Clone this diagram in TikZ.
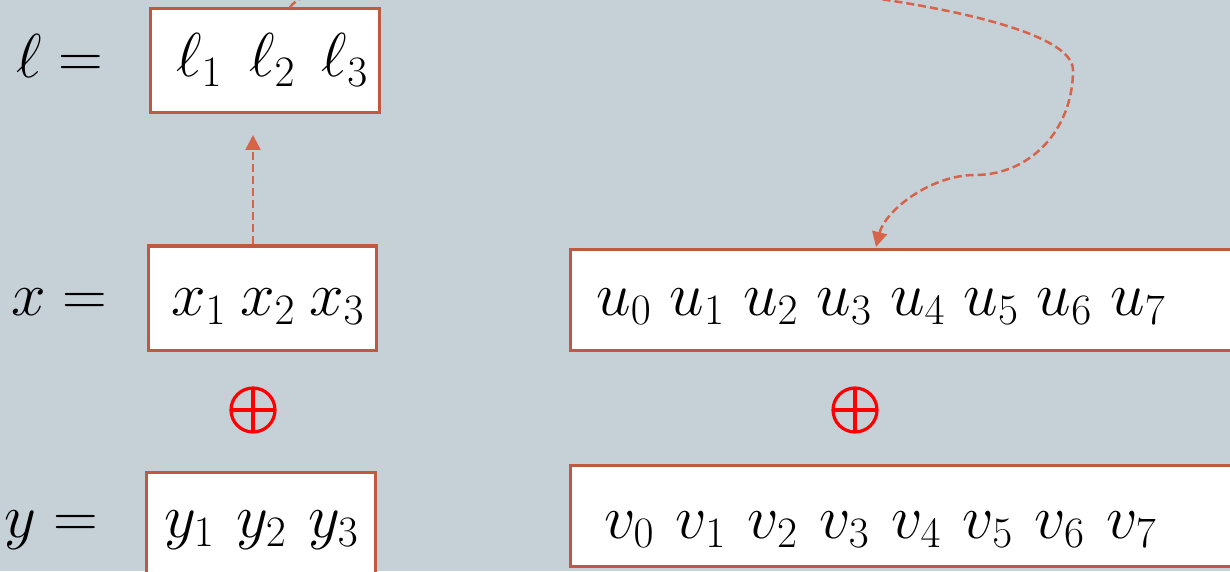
\RequirePackage{fix-cm}
\documentclass[tikz,border=0pt]{standalone}
\usetikzlibrary{arrows.meta}
\definecolor{bgc}{RGB}{197,208,215}
\definecolor{boxc}{RGB}{192,88,66}
\definecolor{arrc}{RGB}{214,100,75}
\begin{document}
\begin{tikzpicture}[x=1pt,y=1pt,
  bitbox/.style={draw=boxc, line width=3pt, fill=white, inner sep=0pt},
  txt/.style={inner sep=0pt, anchor=base west, font=\fontsize{62}{74}\selectfont},
  link/.style={draw=arrc, line width=2.5pt, dash pattern=on 8pt off 4pt, -{Triangle[length=15pt,width=15pt]}},
  xorop/.style={circle, draw=red, line width=3.2pt, minimum size=44pt, inner sep=0pt,
    path picture={\draw[red, line width=3.2pt] (path picture bounding box.north) -- (path picture bounding box.south)
      (path picture bounding box.west) -- (path picture bounding box.east);}}]
\fill[bgc] (0,0) rectangle (1230,571);
\useasboundingbox (0,0) rectangle (1230,571);

% boxes
\node[bitbox, minimum width=229pt, minimum height=104pt] (lbox) at (264.5,510) {};
\node[bitbox, minimum width=228pt, minimum height=104pt] (xbox) at (262,273) {};
\node[bitbox, minimum width=229pt, minimum height=104pt] (ybox) at (260.5,47) {};
\node[bitbox, minimum width=710pt, minimum height=101pt] (ubox) at (925,271.5) {};
\node[bitbox, minimum width=710pt, minimum height=101pt] (vbox) at (925,55.5) {};

% labels
\node[txt] (llab) at (16,493) {$\ell =$};
\node[txt] (xlab) at (11,256) {$x =$};
\node[txt] (ylab) at (4,34) {$y =$};

% contents
\node[txt] (ltxt) at (176,494) {$\ell_1$\hspace{27pt}$\ell_2$\hspace{27pt}$\ell_3$};
\node[txt] (xtxt) at (171,256) {$x_1$\hspace{14pt}$x_2$\hspace{14pt}$x_3$};
\node[txt] (ytxt) at (164,34) {$y_1$\hspace{22pt}$y_2$\hspace{22pt}$y_3$};
\node[txt] (utxt) at (596,256) {$u_0$\hspace{18.5pt}$u_1$\hspace{18.5pt}$u_2$\hspace{18.5pt}$u_3$\hspace{18.5pt}$u_4$\hspace{18.5pt}$u_5$\hspace{18.5pt}$u_6$\hspace{18.5pt}$u_7$};
\node[txt] (vtxt) at (604,33) {$v_0$\hspace{22pt}$v_1$\hspace{22pt}$v_2$\hspace{22pt}$v_3$\hspace{22pt}$v_4$\hspace{22pt}$v_5$\hspace{22pt}$v_6$\hspace{22pt}$v_7$};

% xor symbols
\node[xorop] (op1) at (253,161) {};
\node[xorop] (op2) at (855,161) {};

% connectors
\coordinate (vtip) at (253,436);
\draw[link] ([xshift=-9pt]xbox.north) -- (vtip);
\coordinate (ctip) at (876,324);
\draw[link] ([xshift=25.5pt]lbox.north) .. controls (330,631) and (1073,591) .. (1073,501)
  .. controls (1073,441) and (1030,396) .. (975,396)
  .. controls (930,396) and (885,360) .. (ctip);
\end{tikzpicture}
\end{document}
